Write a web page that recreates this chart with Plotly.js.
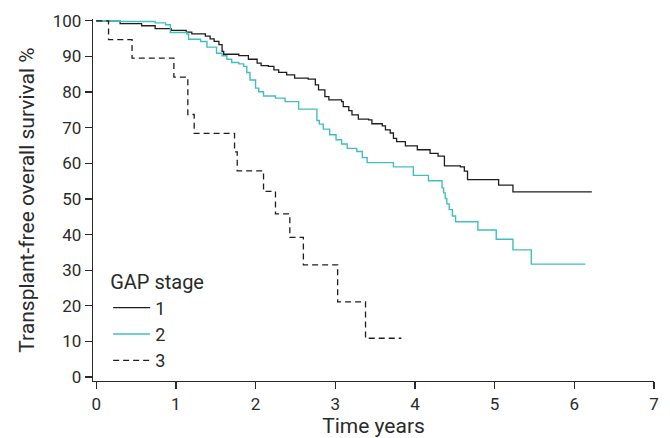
<!DOCTYPE html>
<html>
<head>
<meta charset="utf-8">
<script src="https://cdn.plot.ly/plotly-3.0.1.min.js"></script>
<style>html,body{margin:0;padding:0;background:#fff;}#chart{width:670px;height:438px;}</style>
</head>
<body>
<div id="chart"></div>
<script>
// GAP stage 1 (Kaplan-Meier, step starts)
const gap1Time = [0, 0.30, 0.57, 0.74, 0.94, 1.13, 1.20, 1.37, 1.43, 1.48, 1.54, 1.58, 1.60, 1.79, 1.91, 2.02, 2.07, 2.16, 2.23, 2.29, 2.39, 2.49, 2.66, 2.75, 2.79, 2.87, 2.92, 3.08, 3.10, 3.17, 3.21, 3.29, 3.42, 3.46, 3.59, 3.63, 3.69, 3.73, 3.77, 3.88, 4.03, 4.19, 4.29, 4.37, 4.57, 4.62, 4.66, 5.05, 5.23, 6.22];
const gap1Surv = [100, 99.2, 98.6, 97.8, 97.3, 96.8, 96.3, 95.7, 94.9, 94.2, 93.3, 91.4, 90.6, 90.2, 89.2, 88.1, 87.4, 87.2, 86.2, 85.5, 84.8, 83.9, 83.6, 82.0, 80.6, 78.7, 77.8, 77.3, 75.9, 74.8, 73.6, 72.4, 72.2, 71.1, 70.5, 69.4, 68.5, 67.0, 66.1, 64.9, 63.8, 62.8, 62.0, 59.3, 59.0, 57.8, 55.4, 53.9, 52.0, 52.0];

// GAP stage 2
const gap2Time = [0, 0.30, 0.74, 0.87, 0.93, 1.14, 1.16, 1.31, 1.39, 1.51, 1.58, 1.64, 1.70, 1.79, 1.85, 1.89, 1.93, 2.00, 2.04, 2.10, 2.25, 2.37, 2.54, 2.77, 2.80, 2.85, 2.93, 3.01, 3.08, 3.15, 3.27, 3.34, 3.40, 3.73, 3.98, 4.17, 4.34, 4.36, 4.38, 4.40, 4.43, 4.47, 4.51, 4.79, 5.02, 5.23, 5.46, 6.14];
const gap2Surv = [100, 99.8, 99.4, 98.9, 96.7, 96.3, 94.8, 94.2, 92.6, 90.9, 90.2, 89.2, 88.3, 87.9, 87.2, 85.5, 83.4, 81.1, 80.1, 78.9, 78.3, 77.3, 75.2, 72.0, 71.0, 69.6, 68.0, 66.6, 65.4, 64.2, 63.3, 61.6, 60.2, 59.0, 56.6, 55.1, 53.1, 51.7, 50.1, 48.6, 47.0, 45.2, 43.6, 41.3, 38.7, 35.7, 31.7, 31.7];

// GAP stage 3
const gap3Time = [0, 0.155, 0.45, 0.975, 1.15, 1.23, 1.736, 1.77, 2.10, 2.25, 2.43, 2.60, 3.03, 3.38, 3.83];
const gap3Surv = [100, 94.7, 89.5, 84.2, 73.7, 68.4, 63.2, 57.9, 52.1, 45.8, 39.2, 31.5, 21.1, 10.9, 10.9];

const xTicks = [0, 1, 2, 3, 4, 5, 6, 7];
const yTicks = [0, 10, 20, 30, 40, 50, 60, 70, 80, 90, 100];
const seriesNames = ["1", "2", "3"];

const FONT = "Roboto, 'Liberation Sans', sans-serif";
const INK = "#2a2a2a";

const traces = [
  {x: gap1Time, y: gap1Surv, name: seriesNames[0], mode: "lines",
   line: {shape: "hv", color: "#1e1e1e", width: 1.3}},
  {x: gap2Time, y: gap2Surv, name: seriesNames[1], mode: "lines",
   line: {shape: "hv", color: "#42bec2", width: 1.4}},
  {x: gap3Time, y: gap3Surv, name: seriesNames[2], mode: "lines",
   line: {shape: "hv", color: "#1e1e1e", width: 1.3, dash: "6px,4px"}}
];

const axisCommon = {
  showgrid: false, zeroline: false, showline: true,
  linecolor: INK, linewidth: 1.3,
  ticks: "outside", ticklen: 7, tickwidth: 1.3, tickcolor: INK,
  tickfont: {family: FONT, size: 17, color: INK}
};

const layout = {
  width: 670, height: 438,
  margin: {l: 93, r: 16, t: 19, b: 57},
  paper_bgcolor: "#fff", plot_bgcolor: "#fff",
  showlegend: true,
  legend: {
    x: 0.027, y: 0.325, xanchor: "left", yanchor: "top",
    bgcolor: "rgba(0,0,0,0)",
    font: {family: FONT, size: 18, color: INK},
    title: {text: "GAP stage", font: {family: FONT, size: 20, color: INK}},
    itemwidth: 37, tracegroupgap: 0
  },
  xaxis: Object.assign({}, axisCommon, {
    range: [-0.04, 7.0], tickvals: xTicks, ticktext: xTicks.map(String),
    title: {text: "Time years", font: {family: FONT, size: 21, color: INK}, standoff: 13}
  }),
  yaxis: Object.assign({}, axisCommon, {
    range: [-1.1, 100.5], tickvals: yTicks, ticktext: yTicks.map(String),
    title: {text: "Transplant-free overall survival %", font: {family: FONT, size: 21, color: INK}, standoff: 12}
  })
};

Plotly.newPlot("chart", traces, layout, {staticPlot: true, displayModeBar: false});
</script>
</body>
</html>
